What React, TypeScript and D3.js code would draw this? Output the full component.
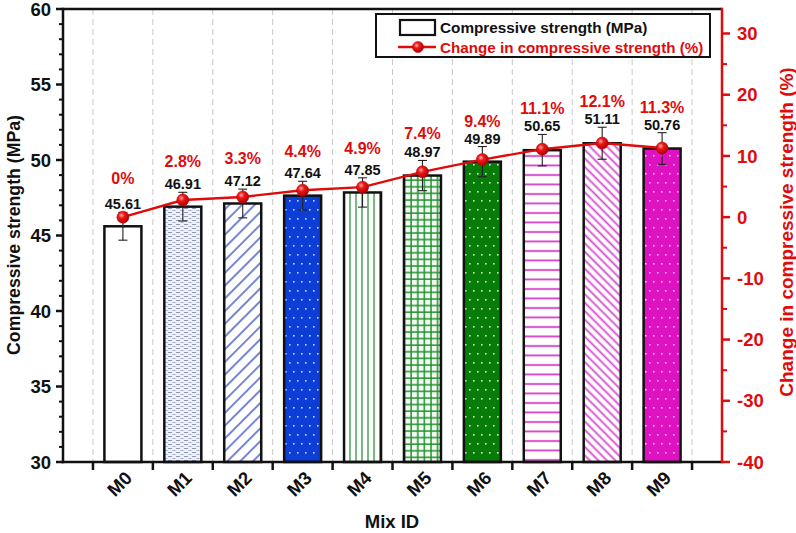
import React from 'react';
import * as d3 from 'd3';

const mixes = ['M0', 'M1', 'M2', 'M3', 'M4', 'M5', 'M6', 'M7', 'M8', 'M9'];
const strength = [45.61, 46.91, 47.12, 47.64, 47.85, 48.97, 49.89, 50.65, 51.11, 50.76];
const strengthErr = [0.92, 0.95, 0.95, 0.95, 0.97, 1.0, 1.0, 1.04, 1.06, 1.05];
const changePct = [0, 2.8, 3.3, 4.4, 4.9, 7.4, 9.4, 11.1, 12.1, 11.3];
const changeLabels = ['0%', '2.8%', '3.3%', '4.4%', '4.9%', '7.4%', '9.4%', '11.1%', '12.1%', '11.3%'];
const leftTicks = [30, 35, 40, 45, 50, 55, 60];
const rightTicks = [-40, -30, -20, -10, 0, 10, 20, 30];

const RED = '#e00b0b';
const FONT = '"Liberation Sans", Arial, Helvetica, sans-serif';

const W = 796, H = 533;
const L = 63, R = 722, T = 9, B = 462;

export default function App() {
  const x = d3.scaleLinear().domain([0, 11]).range([L, R]);
  const yL = d3.scaleLinear().domain([30, 60]).range([B, T]);
  const yR = d3.scaleLinear().domain([-40, 34]).range([B, T]);
  const barW = 37;
  const leftMinor = d3.range(30, 60.001, 1).filter((v) => v % 5 !== 0);
  const rightMinor = d3.range(-35, 34, 10);
  const xTicks = d3.range(0.5, 11, 1);
  const patterns = ['none', 'url(#pM1)', 'url(#pM2)', 'url(#pM3)', 'url(#pM4)', 'url(#pM5)', 'url(#pM6)', 'url(#pM7)', 'url(#pM8)', 'url(#pM9)'];
  const line = d3.line<number>().x((_, i) => x(i + 1)).y((d) => yR(d));
  const valueBase = strength.map((v, i) => yL(v + strengthErr[i]) - 3);
  const pctBase = changePct.map((p, i) => Math.min(yR(p) - 33, valueBase[i] - 17));

  return (
    <svg width={W} height={H} style={{ position: 'absolute', left: 0, top: 0, background: '#fff' }} fontFamily={FONT}>
      <defs>
        <pattern id="pM1" width="8" height="4" patternUnits="userSpaceOnUse">
          <rect width="8" height="4" fill="#eef0f7" />
          <rect x="0" y="0" width="4" height="1" fill="#8e99b9" />
          <rect x="4.5" y="2" width="3" height="1" fill="#a6b0cc" />
        </pattern>
        <pattern id="pM2" width="9" height="9" patternUnits="userSpaceOnUse" patternTransform="rotate(45)">
          <rect width="9" height="9" fill="#fff" />
          <line x1="1" y1="0" x2="1" y2="9" stroke="#5468cc" strokeWidth="1.6" />
        </pattern>
        <pattern id="pM3" width="8" height="18" patternUnits="userSpaceOnUse">
          <rect width="8" height="18" fill="#0c3dd6" />
          <rect x="1" y="2" width="1.6" height="1.6" fill="#c8d4ff" />
          <rect x="5" y="11" width="1.6" height="1.6" fill="#c8d4ff" />
        </pattern>
        <pattern id="pM4" width="6" height="6" patternUnits="userSpaceOnUse">
          <rect width="6" height="6" fill="#fff" />
          <line x1="2" y1="0" x2="2" y2="6" stroke="#3d9e4c" strokeWidth="1.4" />
        </pattern>
        <pattern id="pM5" width="6.6" height="6.6" patternUnits="userSpaceOnUse">
          <rect width="6.6" height="6.6" fill="#f2fbf2" />
          <line x1="2" y1="0" x2="2" y2="6.6" stroke="#22902f" strokeWidth="1.5" />
          <line x1="0" y1="2" x2="6.6" y2="2" stroke="#22902f" strokeWidth="1.5" />
        </pattern>
        <pattern id="pM6" width="8" height="18" patternUnits="userSpaceOnUse">
          <rect width="8" height="18" fill="#087c08" />
          <rect x="1" y="2" width="1.6" height="1.6" fill="#cdeccd" />
          <rect x="5" y="11" width="1.6" height="1.6" fill="#cdeccd" />
        </pattern>
        <pattern id="pM7" width="9.5" height="9.5" patternUnits="userSpaceOnUse">
          <rect width="9.5" height="9.5" fill="#fff" />
          <line x1="0" y1="4" x2="9.5" y2="4" stroke="#d43cc8" strokeWidth="1.8" />
        </pattern>
        <pattern id="pM8" width="6" height="6" patternUnits="userSpaceOnUse" patternTransform="rotate(-45)">
          <rect width="6" height="6" fill="#fff" />
          <line x1="1.5" y1="0" x2="1.5" y2="6" stroke="#d44bcf" strokeWidth="1.8" />
        </pattern>
        <pattern id="pM9" width="8" height="18" patternUnits="userSpaceOnUse">
          <rect width="8" height="18" fill="#de12c0" />
          <rect x="1" y="2" width="1.6" height="1.6" fill="#f6b8ee" />
          <rect x="5" y="11" width="1.6" height="1.6" fill="#f6b8ee" />
        </pattern>
        <radialGradient id="ball" cx="0.38" cy="0.35" r="0.7">
          <stop offset="0" stopColor="#ffb0b0" />
          <stop offset="0.35" stopColor="#f01818" />
          <stop offset="1" stopColor="#a80000" />
        </radialGradient>
      </defs>

      {/* vertical dashed grid */}
      {xTicks.map((t) => (
        <line key={'g' + t} x1={x(t)} x2={x(t)} y1={T} y2={B} stroke="#c9c9c9" strokeWidth={1} strokeDasharray="6 4" />
      ))}

      {/* bars */}
      {strength.map((v, i) => (
        <rect key={'b' + i} x={x(i + 1) - barW / 2} y={yL(v)} width={barW} height={B - yL(v)}
          fill={patterns[i] === 'none' ? '#fff' : patterns[i]} stroke="#111" strokeWidth={2.5} />
      ))}

      {/* error bars */}
      {strength.map((v, i) => {
        const cx = x(i + 1);
        const y1 = yL(v + strengthErr[i]);
        const y2 = yL(v - strengthErr[i]);
        return (
          <g key={'e' + i} stroke="#222" strokeWidth={1.1}>
            <line x1={cx} x2={cx} y1={y1} y2={y2} />
            <line x1={cx - 4.5} x2={cx + 4.5} y1={y1} y2={y1} />
            <line x1={cx - 4.5} x2={cx + 4.5} y1={y2} y2={y2} />
          </g>
        );
      })}

      {/* change line */}
      <path d={line(changePct) || ''} fill="none" stroke={RED} strokeWidth={2.4} />
      {changePct.map((p, i) => (
        <circle key={'m' + i} cx={x(i + 1)} cy={yR(p)} r={6} fill="url(#ball)" stroke="#c00000" strokeWidth={0.6} />
      ))}

      {/* value labels */}
      {strength.map((v, i) => (
        <text key={'vl' + i} x={x(i + 1)} y={valueBase[i]} textAnchor="middle" fontSize={14.5} fontWeight="bold" fill="#111">
          {v.toFixed(2)}
        </text>
      ))}
      {changePct.map((p, i) => (
        <text key={'pl' + i} x={x(i + 1)} y={pctBase[i]} textAnchor="middle" fontSize={16} fontWeight="bold" fill={RED}>
          {changeLabels[i]}
        </text>
      ))}

      {/* frame: top and bottom */}
      <line x1={L} x2={R} y1={T} y2={T} stroke="#111" strokeWidth={2.5} />
      <line x1={L - 1.25} x2={R} y1={B} y2={B} stroke="#111" strokeWidth={2.5} />

      {/* left axis */}
      <line x1={L} x2={L} y1={T - 1.25} y2={B + 1.25} stroke="#111" strokeWidth={2.5} />
      {leftTicks.map((t) => (
        <g key={'lt' + t}>
          <line x1={L - 7} x2={L} y1={yL(t)} y2={yL(t)} stroke="#111" strokeWidth={2.5} />
          <text x={51} y={yL(t)} dy="0.36em" textAnchor="end" fontSize={18.5} fontWeight="bold" fill="#111">{t}</text>
        </g>
      ))}
      {leftMinor.map((t) => (
        <line key={'lm' + t} x1={L - 4} x2={L} y1={yL(t)} y2={yL(t)} stroke="#111" strokeWidth={2} />
      ))}
      <text transform={`translate(20, ${235}) rotate(-90)`} textAnchor="middle" fontSize={17.7} fontWeight="bold" fill="#111">
        Compressive strength (MPa)
      </text>

      {/* right axis */}
      <line x1={R} x2={R} y1={T - 1.25} y2={B + 1.25} stroke={RED} strokeWidth={2.5} />
      {rightTicks.map((t) => (
        <g key={'rt' + t}>
          <line x1={R} x2={R + 8} y1={yR(t)} y2={yR(t)} stroke={RED} strokeWidth={2.5} />
          <text x={737} y={yR(t)} dy="0.36em" textAnchor="start" fontSize={18.5} fontWeight="bold" fill={RED}>{t}</text>
        </g>
      ))}
      {rightMinor.map((t) => (
        <line key={'rm' + t} x1={R} x2={R + 5} y1={yR(t)} y2={yR(t)} stroke={RED} strokeWidth={2} />
      ))}
      <text transform={`translate(786, ${232}) rotate(-90)`} textAnchor="middle" dy="0.36em" fontSize={19} fontWeight="bold" fill={RED}>
        Change in compressive strength (%)
      </text>

      {/* bottom axis */}
      {xTicks.map((t) => (
        <line key={'xt' + t} x1={x(t)} x2={x(t)} y1={B} y2={B + 8} stroke="#111" strokeWidth={2.5} />
      ))}
      {mixes.map((m, i) => (
        <text key={'xl' + i} transform={`translate(${x(i + 1) + 1}, 470) rotate(-45)`} textAnchor="end" dy="0.71em" fontSize={18.5} fontWeight="bold" fill="#111">
          {m}
        </text>
      ))}
      <text x={392} y={528} textAnchor="middle" fontSize={18.5} fontWeight="bold" fill="#111">Mix ID</text>

      {/* legend */}
      <rect x={376} y={14} width={334} height={43} fill="#fff" stroke="#111" strokeWidth={2} />
      <rect x={400} y={20} width={35} height={15} fill="#fff" stroke="#111" strokeWidth={2.2} />
      <text x={440} y={33} fontSize={15.3} fontWeight="bold" fill="#111">Compressive strength (MPa)</text>
      <line x1={398} x2={436} y1={47} y2={47} stroke={RED} strokeWidth={2.3} />
      <circle cx={418} cy={47} r={5.5} fill="url(#ball)" stroke="#c00000" strokeWidth={0.6} />
      <text x={440} y={52.5} fontSize={15.2} fontWeight="bold" fill={RED}>Change in compressive strength (%)</text>
    </svg>
  );
}
